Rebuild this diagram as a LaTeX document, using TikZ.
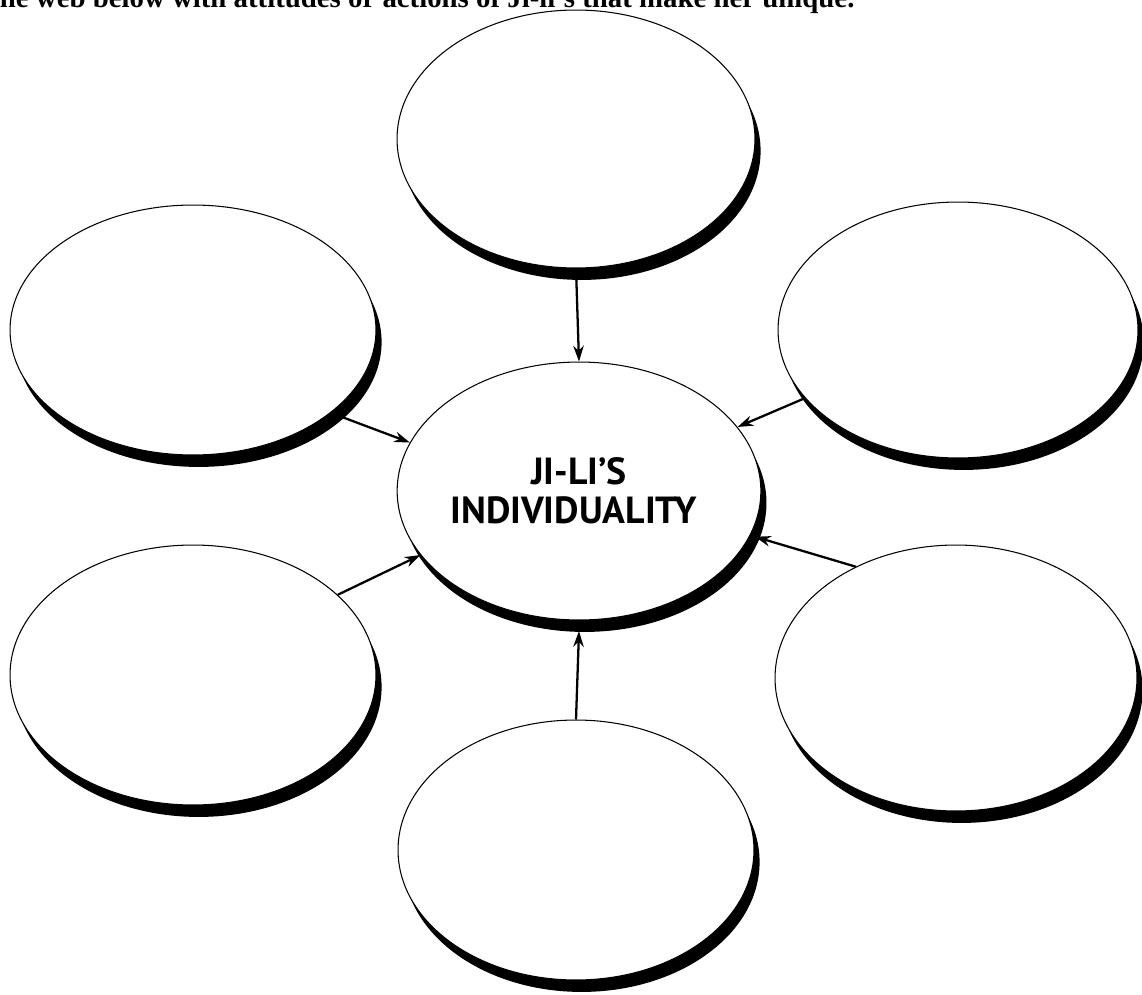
\documentclass[tikz,border=0pt]{standalone}
\usepackage{fontspec}
\setmainfont{Liberation Serif}
\newfontfamily\hubfont{PT Sans}
\usetikzlibrary{shapes.geometric,shadows,arrows.meta}
\tikzset{
  bubble/.style={ellipse, draw=black, line width=0.6pt, fill=white, inner sep=0pt,
    general shadow={fill=black, shadow xshift=3.2pt, shadow yshift=-6.8pt}},
  link/.style={line width=1.3pt, -{Stealth[length=9pt,width=6pt]}}
}
\begin{document}
\begin{tikzpicture}[x=0.02cm,y=-0.02cm]
\clip (0,0) rectangle (1142,994);
\node[anchor=base west,inner sep=0pt,font=\bfseries\fontsize{16.4}{18}\selectfont] (title) at (-10,7)
  {the web below with attitudes or actions of Ji-li's that make her unique.};

\node[bubble,minimum width=7.16cm,minimum height=5.16cm] (top) at (576,139) {};
\node[bubble,minimum width=7.32cm,minimum height=5.0cm] (lt) at (193,330) {};
\node[bubble,minimum width=7.2cm,minimum height=5.12cm] (rt) at (958,330) {};
\node[bubble,minimum width=7.32cm,minimum height=5.2cm] (lb) at (193,675) {};
\node[bubble,minimum width=7.24cm,minimum height=5.32cm] (rb) at (956,678) {};
\node[bubble,minimum width=7.12cm,minimum height=5.2cm] (bot) at (576,850) {};
\node[bubble,minimum width=7.24cm,minimum height=5.16cm,align=center,
  font=\hubfont\bfseries\fontsize{21.5}{22}\selectfont] (c) at (579,491) {JI-LI’S\\INDIVIDUALITY\hspace*{6pt}};

\draw[link] (top.south) -- (c.north);
\draw[link] (lt.-31) -- (c.164);
\draw[link] (rt.-156) -- (c.22);
\draw[link] (lb.29) -- (c.202);
\draw[link] (rb.132) -- ([xshift=3pt]c.-15);
\draw[link] (bot.north) -- ([yshift=-6pt]c.south);
\end{tikzpicture}
\end{document}
